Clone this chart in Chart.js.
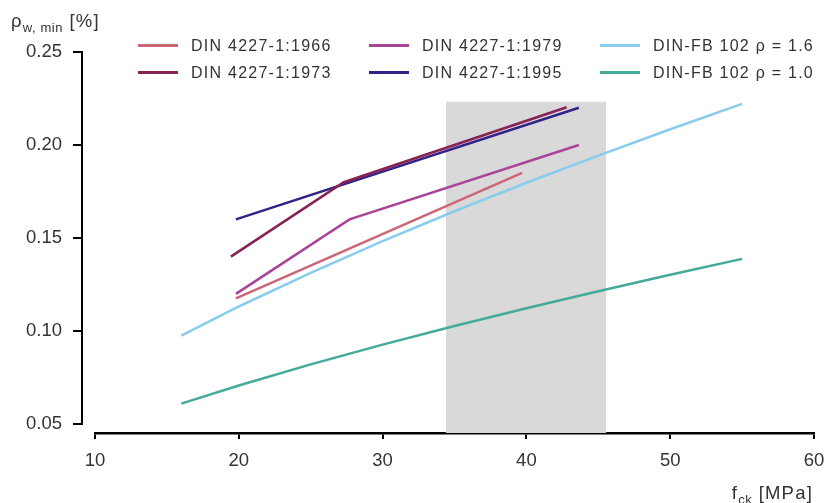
<!DOCTYPE html>
<html lang="de">
<head>
<meta charset="UTF-8">
<title>rho_w,min</title>
<script src="https://cdn.jsdelivr.net/npm/chart.js"></script>
<style>
  body { margin: 0; background: #fff; font-family: "Liberation Sans", Arial, sans-serif; color: #333; }
  .fundo { position: relative; width: 825px; height: 503px; overflow: hidden; }
  canvas { position: absolute; left: 0; top: 0; }
  .ytitel { position: absolute; left: 11px; top: 10px; font-size: 18.5px; letter-spacing: 1.2px; white-space: nowrap; }
  .xtitel { position: absolute; right: 12px; top: 482px; font-size: 18.5px; letter-spacing: 1.2px; white-space: nowrap; }
  sub { font-size: 13px; vertical-align: -5px; line-height: 0; letter-spacing: 0.6px; }
  .legende { position: absolute; left: 138px; top: 32px; display: grid;
             grid-template-columns: 231px 231px 231px; grid-template-rows: 27px 27px; grid-auto-flow: column; }
  .item { display: flex; align-items: center; font-size: 16px; letter-spacing: 1.25px; white-space: nowrap; }
  .linha { width: 40px; height: 2.5px; margin-right: 13px; }
</style>
</head>
<body>
<div class="fundo">
  <canvas id="myChart" width="825" height="503"></canvas>
  <div class="ytitel">&rho;<sub>w, min</sub> [%]</div>
  <div class="xtitel">f<sub>ck</sub> [MPa]</div>
  <div class="legende" id="legende"></div>
</div>

<script>
  // Werte
  const fck1966 = [19.8, 39.7]
  const rho1966 = [0.1176, 0.185]
  const fck1973 = [19.45, 27.3, 42.8]
  const rho1973 = [0.140, 0.180, 0.2203]
  const fck1979 = [19.8, 27.7, 43.65]
  const rho1979 = [0.120, 0.160, 0.200]
  const fck1995 = [19.8, 43.65]
  const rho1995 = [0.160, 0.220]
  const fckFB = [16, 20, 25, 30, 35, 40, 45, 50, 55]
  const rhoFB16 = [0.0975, 0.1132, 0.1313, 0.1483, 0.1644, 0.1797, 0.1943, 0.2085, 0.2221]
  const rhoFB10 = [0.0610, 0.0707, 0.0821, 0.0927, 0.1027, 0.1123, 0.1214, 0.1303, 0.1388]
  const bereichX = [34.4, 45.55]
  const bereichY = [0.2232, 0.2232]
  const yTicks = [0.05, 0.10, 0.15, 0.20, 0.25]

  function punkte(xs, ys) {
    return xs.map((x, i) => ({x: x, y: ys[i]}))
  }

  function linie(label, xs, ys, farbe) {
    return {
      label: label,
      data: punkte(xs, ys),
      borderColor: farbe,
      backgroundColor: farbe,
      borderWidth: 2.5,
      pointRadius: 0,
      fill: false
    }
  }

  // y-Achse abgesetzt zeichnen (Linie + Striche links vom Plotbereich)
  const yAchse = {
    id: 'yAchse',
    afterDraw(chart) {
      const c = chart.ctx
      const y = chart.scales.y
      const x0 = chart.chartArea.left - 13
      c.save()
      c.strokeStyle = '#000'
      c.lineWidth = 2
      c.beginPath()
      c.moveTo(x0, y.getPixelForValue(0.05) + 1)
      c.lineTo(x0, y.getPixelForValue(0.25) - 1)
      yTicks.forEach(v => {
        const py = y.getPixelForValue(v)
        c.moveTo(x0 - 9, py)
        c.lineTo(x0, py)
      })
      c.stroke()
      c.restore()
    }
  }

  const schrift = {family: '"Liberation Sans", Arial, sans-serif', size: 18.5}

  const ctx = document.getElementById('myChart')
  ctx.getContext('2d').letterSpacing = '0.6px'

  const chart = new Chart(ctx, {
    type: 'line',
    data: {
      datasets: [
        linie('DIN 4227-1:1966', fck1966, rho1966, '#CC6677'),
        linie('DIN 4227-1:1973', fck1973, rho1973, '#882255'),
        linie('DIN 4227-1:1979', fck1979, rho1979, '#AA4499'),
        linie('DIN 4227-1:1995', fck1995, rho1995, '#332288'),
        linie('DIN-FB 102 \u03C1 = 1.6', fckFB, rhoFB16, '#88CCEE'),
        linie('DIN-FB 102 \u03C1 = 1.0', fckFB, rhoFB10, '#44AA99'),
        {
          data: punkte(bereichX, bereichY),
          borderWidth: 0,
          pointRadius: 0,
          backgroundColor: '#d9d9d9',
          fill: 'start'
        }
      ]
    },
    options: {
      responsive: false,
      animation: false,
      devicePixelRatio: 1,
      layout: { padding: {top: 52, right: 11, left: 0, bottom: 0} },
      plugins: {
        legend: { display: false },
        tooltip: { enabled: false }
      },
      scales: {
        x: {
          type: 'linear',
          min: 10,
          max: 60,
          ticks: { stepSize: 10, color: '#333', font: schrift, padding: 11, maxRotation: 0 },
          grid: { drawOnChartArea: false, drawTicks: true, tickLength: 6, color: '#000', lineWidth: 2 },
          border: { display: true, color: '#000', width: 2.5 },
          afterFit(scale) {
            scale.height = 70
            scale.paddingLeft = 0
            scale.paddingRight = 0
          }
        },
        y: {
          type: 'linear',
          min: 0.0452,
          max: 0.25,
          afterBuildTicks(scale) { scale.ticks = yTicks.map(v => ({value: v})) },
          ticks: { color: '#333', font: schrift, padding: 33, callback: v => v.toFixed(2) },
          grid: { display: false, drawTicks: false },
          border: { display: false },
          afterFit(scale) {
            scale.width = 95
            scale.paddingTop = 0
            scale.paddingBottom = 0
          }
        }
      }
    },
    plugins: [yAchse]
  })

  // Legende aus den Datensätzen
  const legende = document.getElementById('legende')
  chart.data.datasets.filter(d => d.label).forEach(d => {
    const item = document.createElement('div')
    item.className = 'item'
    const strich = document.createElement('span')
    strich.className = 'linha'
    strich.style.background = d.borderColor
    item.appendChild(strich)
    item.appendChild(document.createTextNode(d.label))
    legende.appendChild(item)
  })
</script>
</body>
</html>
